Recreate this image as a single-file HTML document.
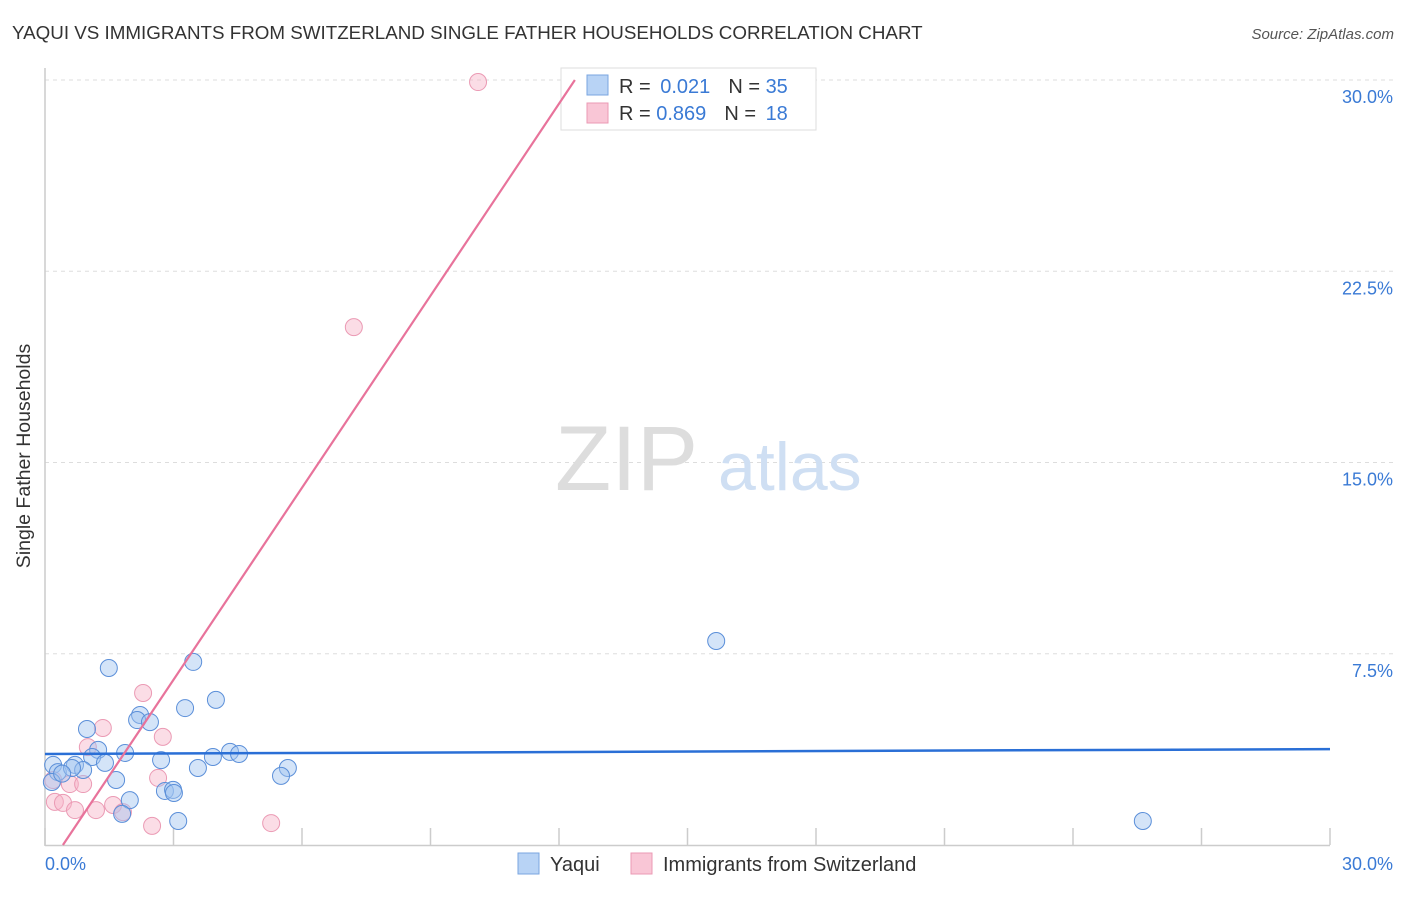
<!DOCTYPE html>
<html><head><meta charset="utf-8"><style>
body{margin:0;background:#fff;font-family:"Liberation Sans",sans-serif;}
svg text{font-family:"Liberation Sans",sans-serif;}
</style></head><body>
<svg width="1406" height="892" viewBox="0 0 1406 892" xmlns="http://www.w3.org/2000/svg">
<text x="12" y="39" font-size="18.8" fill="#333">YAQUI VS IMMIGRANTS FROM SWITZERLAND SINGLE FATHER HOUSEHOLDS CORRELATION CHART</text>
<text x="1394" y="39" font-size="15" fill="#555" font-style="italic" text-anchor="end">Source: ZipAtlas.com</text>
<g id="grid"></g>
<g id="yticks"></g>
<g id="xticks"></g>
<line x1="45" y1="68" x2="45" y2="846" stroke="#ccc" stroke-width="1.5"/>
<line x1="45" y1="845.5" x2="1330" y2="845.5" stroke="#ccc" stroke-width="1.5"/>
<text x="30" y="456" font-size="19.5" fill="#333" text-anchor="middle" transform="rotate(-90 30 456)">Single Father Households</text>
<text x="555" y="490" font-size="92" fill="#ddd" font-family="Liberation Serif">ZIP</text>
<text x="718" y="490" font-size="68" fill="#cfdff3">atlas</text>
<g>
<rect x="561" y="68" width="255" height="62" fill="#fff" stroke="#ddd"/>
<rect x="587" y="75" width="21" height="20" fill="#b8d3f5" stroke="#7aa6e0"/>
<rect x="587" y="103" width="21" height="20" fill="#f9c6d6" stroke="#eb9ab4"/>
<text x="619" y="93" font-size="20" fill="#333">R = <tspan fill="#3a7ad5" dx="4">0.021</tspan><tspan dx="18" fill="#333">N = </tspan><tspan fill="#3a7ad5">35</tspan></text>
<text x="619" y="120" font-size="20" fill="#333">R = <tspan fill="#3a7ad5">0.869</tspan><tspan dx="18" fill="#333">N = </tspan><tspan fill="#3a7ad5" dx="4">18</tspan></text>
</g>
<g id="pinkpts"></g>
<g id="bluepts"></g>
<g id="lines"></g>
<g>
<rect x="518" y="853" width="21" height="21" fill="#b8d3f5" stroke="#7aa6e0"/>
<text x="550" y="871" font-size="20" fill="#333">Yaqui</text>
<rect x="631" y="853" width="21" height="21" fill="#f9c6d6" stroke="#eb9ab4"/>
<text x="663" y="871" font-size="20" fill="#333">Immigrants from Switzerland</text>
</g>
<text x="45" y="870" font-size="18" fill="#3a7ad5">0.0%</text>
<text x="1393" y="870" font-size="18" fill="#3a7ad5" text-anchor="end">30.0%</text>
</svg>
<script>
const yTickValues=[7.5,15,22.5,30];
const yTickLabels=["7.5%","15.0%","22.5%","30.0%"];
const xTickValues=[0,3,6,9,12,15,18,21,24,27,30];
const yaquiX=[1.49,3.46,3.27,3.99,0.98,2.22,2.15,2.45,1.24,1.87,1.10,1.40,0.19,0.70,0.89,0.30,0.63,2.71,3.92,4.32,4.53,3.57,5.67,5.51,1.66,0.16,2.80,2.99,3.01,1.98,1.80,3.11,15.67,25.63,0.40];
const yaquiY=[6.94,7.18,5.37,5.69,4.55,5.10,4.90,4.82,3.73,3.61,3.45,3.22,3.14,3.14,2.94,2.86,3.02,3.33,3.45,3.65,3.57,3.02,3.02,2.71,2.55,2.47,2.12,2.16,2.04,1.76,1.22,0.94,8.0,0.94,2.8];
const swissX=[10.11,7.21,2.29,1.35,1.00,2.75,2.64,0.58,0.89,0.19,0.23,0.42,0.70,1.19,1.59,1.82,2.50,5.28];
const swissY=[29.92,20.31,5.96,4.59,3.84,4.24,2.63,2.39,2.39,2.55,1.69,1.65,1.37,1.37,1.57,1.29,0.75,0.86];
const yaquiTrend=[3.57,3.76];
const swissTrend=[-1.05,2.51];
const NS="http://www.w3.org/2000/svg";
const xs=v=>45+v/30*1285;
const ys=v=>845-v/30*765;
function mk(tag,attrs,parent){const e=document.createElementNS(NS,tag);for(const k in attrs)e.setAttribute(k,attrs[k]);parent.appendChild(e);return e;}
const grid=document.getElementById('grid'),yt=document.getElementById('yticks'),xt=document.getElementById('xticks');
yTickValues.forEach((v,i)=>{
 const l=mk('line',{x1:45,x2:1393,y1:ys(v),y2:ys(v),stroke:'#ddd','stroke-dasharray':'4,4'},grid);
 
 
 const t=mk('text',{x:1393,y:ys(v)+23,'font-size':18,fill:'#3a7ad5','text-anchor':'end'},yt);
 t.textContent=yTickLabels[i];
 
 
});
xTickValues.forEach(v=>{
 const l=mk('line',{x1:xs(v),x2:xs(v),y1:828,y2:845,stroke:'#ccc','stroke-width':1.5},xt);
 
 
});
const pg=document.getElementById('pinkpts');
swissX.forEach((x,i)=>{
 const c=mk('circle',{cx:xs(x),cy:ys(swissY[i]),r:8.5,fill:'rgba(246,180,200,0.45)',stroke:'#eb9ab4','stroke-width':1},pg);
 
 
});
const bg=document.getElementById('bluepts');
yaquiX.forEach((x,i)=>{
 const c=mk('circle',{cx:xs(x),cy:ys(yaquiY[i]),r:8.5,fill:'rgba(160,196,240,0.45)',stroke:'#5b8fd9','stroke-width':1},bg);
 
 
});
const lg=document.getElementById('lines');
const bl=mk('line',{x1:xs(0),y1:ys(yaquiTrend[0]),x2:xs(30),y2:ys(yaquiTrend[1]),stroke:'#2a6fd6','stroke-width':2.5},lg);


const x0=-swissTrend[0]/swissTrend[1], x1=(30-swissTrend[0])/swissTrend[1];
const pl=mk('line',{x1:xs(x0),y1:ys(0),x2:xs(x1),y2:ys(30),stroke:'#e8739b','stroke-width':2.2},lg);


</script>
</body></html>
